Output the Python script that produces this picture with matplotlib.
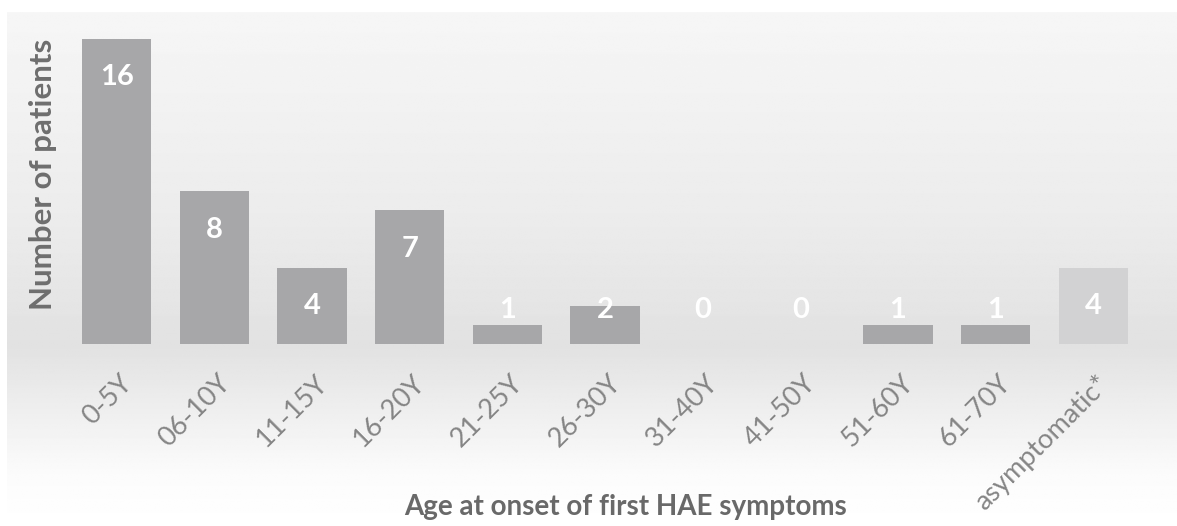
import matplotlib
matplotlib.use('Agg')
import matplotlib.pyplot as plt
import numpy as np

plt.rcParams['font.family'] = ['Lato', 'DejaVu Sans']

# data
categories = ['0-5Y', '06-10Y', '11-15Y', '16-20Y', '21-25Y', '26-30Y',
              '31-40Y', '41-50Y', '51-60Y', '61-70Y', 'asymptomatic*']
patients = [16, 8, 4, 7, 1, 2, 0, 0, 1, 1, 4]
bar_colors = ['#a7a7a9'] * 10 + ['#d2d2d3']

fig = plt.figure(figsize=(11.77, 5.26), dpi=100)

# gradient backdrop
bg = fig.add_axes([7 / 1177, 0, 1 - 7 / 1177, 1 - 12 / 526])
bg.set_axis_off()
yy = np.linspace(0, 1, 300)  # 0 = bottom, 1 = top
shade = np.interp(yy, [0, 0.1, 0.35, 0.6, 1.0], [1.0, 0.985, 0.885, 0.925, 0.965])
bg.imshow(shade[::-1, None] * np.ones((1, 10)), cmap='gray', vmin=0, vmax=1,
          aspect='auto', extent=[0, 1, 0, 1], interpolation='bilinear')
bg.set_xlim(0, 1)
bg.set_ylim(0, 1)

ax = fig.add_axes([68 / 1177, (526 - 344) / 526, 1074 / 1177, 311 / 526])
ax.patch.set_alpha(0)
x = np.arange(len(categories))
ax.bar(x, patients, width=0.71, color=bar_colors, zorder=2)

# value labels near the top of each bar (kept above the baseline for small bars)
for xi, v in zip(x, patients):
    ax.text(xi, max(v, 3.8) - 2, str(v), ha='center', va='center', color='white',
            fontsize=21, fontweight='bold', zorder=3)

ax.set_xlim(-0.5, len(categories) - 0.5)
ax.set_ylim(0, 16.3)
ax.set_yticks([])
ax.set_xticks(x + 0.03)
ax.set_xticklabels(categories, rotation=45, ha='right', va='top', rotation_mode='anchor',
                   color='#858585', fontsize=19.5)
ax.tick_params(axis='x', length=0, pad=19)
for s in ax.spines.values():
    s.set_visible(False)

fig.text(626 / 1177, 1 - 507 / 526, 'Age at onset of first HAE symptoms', ha='center',
         va='center', fontsize=20, fontweight='bold', color='#696969')
fig.text(43 / 1177, 1 - 174 / 526, 'Number of patients', rotation=90, ha='center',
         va='center', fontsize=22.5, fontweight='bold', color='#6e6e6e')

fig.savefig('out.png', dpi=100)
